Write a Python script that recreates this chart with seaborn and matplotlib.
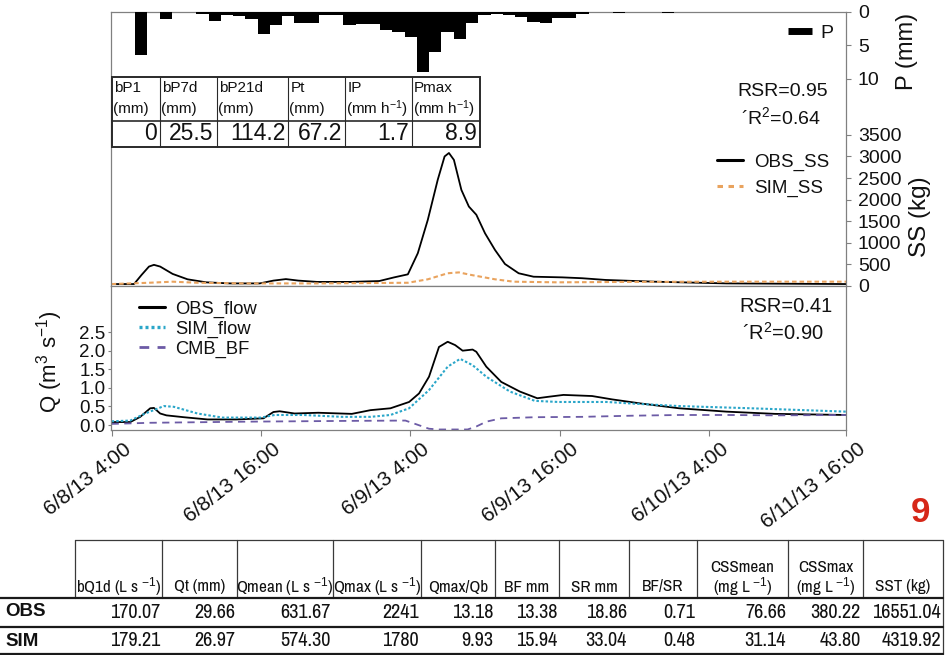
import numpy as np
import matplotlib
matplotlib.use("Agg")
import matplotlib.pyplot as plt
import matplotlib.transforms as mtransforms
from matplotlib.lines import Line2D
from matplotlib.patches import Rectangle
from matplotlib import font_manager
import seaborn as sns

# ---------------- data ----------------
# hourly rainfall bars (mm)
P_mm = [6.4, 0, 1.0, 0, 0, 0.3, 1.3, 0.45, 0.6, 1.1,
        3.3, 2.0, 0.6, 1.6, 1.6, 0.45, 0.45, 2.0, 1.8, 1.8,
        2.7, 3.0, 3.7, 9.0, 6.0, 3.0, 4.0, 1.6, 0.45, 0.3,
        0.4, 0.8, 1.5, 1.7, 0.96, 0.96, 0.3, 0, 0, 0.1,
        0, 0, 0, 0.1]
P_bin = list(range(len(P_mm)))

# suspended sediment (kg), time in hours since 6/8/13 4:00
obs_ss_h = [0.0, 1.8, 2.4, 3.0, 3.4, 3.9, 4.9, 6.1, 7.6, 9.5, 11.9, 13.0, 14.0,
            15.0, 16.5, 19.2, 21.5, 22.7, 23.8, 24.6, 25.4, 26.2, 26.75, 27.1,
            27.5, 28.1, 28.7, 29.3, 30.0, 30.8, 31.6, 32.7, 33.9, 36.2, 37.8,
            39.7, 43.6, 49.4, 59.0]
obs_ss_kg = [45, 45, 255, 450, 490, 450, 280, 155, 85, 60, 60, 125, 160,
             125, 95, 95, 115, 200, 270, 760, 1530, 2460, 3000, 3080,
             2920, 2225, 1840, 1650, 1220, 835, 510, 295, 215, 200, 180,
             140, 100, 60, 45]
sim_ss_h = [0.0, 3.0, 4.9, 6.9, 10.7, 16.5, 23.8, 25.4, 27.0, 27.9, 28.9,
            30.8, 32.3, 35.8, 41.6, 49.4, 59.0]
sim_ss_kg = [45, 75, 100, 75, 60, 60, 75, 155, 295, 315, 255,
             155, 100, 85, 95, 100, 100]

# discharge (m3 s-1)
obs_flow_h = [0.0, 1.5, 2.3, 3.1, 3.4, 3.9, 4.4, 5.8, 7.7, 10.0, 12.2, 13.0,
              13.5, 14.7, 16.6, 19.3, 20.8, 22.4, 23.9, 24.7, 25.5, 26.3,
              27.0, 27.6, 28.2, 29.0, 29.3, 30.1, 31.3, 32.8, 34.2, 35.1,
              36.3, 38.6, 40.2, 42.5, 45.6, 49.4, 53.3, 59.0]
obs_flow_q = [0.08, 0.08, 0.22, 0.45, 0.46, 0.31, 0.26, 0.21, 0.15, 0.15, 0.18,
              0.35, 0.37, 0.31, 0.33, 0.30, 0.40, 0.45, 0.62, 0.85, 1.30, 2.10,
              2.24, 2.15, 2.00, 2.03, 1.97, 1.57, 1.16, 0.90, 0.72, 0.76,
              0.81, 0.78, 0.69, 0.58, 0.45, 0.36, 0.30, 0.27]
sim_flow_h = [0.0, 1.5, 2.7, 4.2, 5.0, 6.9, 8.9, 12.0, 13.1, 15.4, 18.5, 20.8,
              22.4, 23.9, 25.5, 27.0, 28.0, 29.0, 30.1, 32.0, 34.0, 35.9,
              39.8, 41.7, 45.6, 51.4, 59.0]
sim_flow_q = [0.10, 0.12, 0.31, 0.51, 0.49, 0.31, 0.20, 0.20, 0.27, 0.27, 0.22,
              0.22, 0.27, 0.45, 0.94, 1.57, 1.78, 1.61, 1.30, 0.90, 0.65, 0.62,
              0.62, 0.58, 0.51, 0.45, 0.36]
bf_h = [0.0, 3.1, 10.8, 18.5, 23.6, 24.3, 25.5, 26.3, 28.6, 29.3, 30.1, 31.3,
        34.0, 37.8, 41.7, 45.6, 49.4, 53.3, 59.0]
bf_q = [0.03, 0.06, 0.09, 0.11, 0.12, 0.04, -0.10, -0.12, -0.12, -0.04, 0.09,
        0.18, 0.21, 0.22, 0.25, 0.27, 0.27, 0.26, 0.27]

x_tick_hours = [0, 12, 24, 36, 48, 59]
x_tick_labels = ["6/8/13 4:00", "6/8/13 16:00", "6/9/13 4:00",
                 "6/9/13 16:00", "6/10/13 4:00", "6/11/13 16:00"]
q_ticks = [0.0, 0.5, 1.0, 1.5, 2.0, 2.5]
ss_ticks = [0, 500, 1000, 1500, 2000, 2500, 3000, 3500]
p_ticks = [0, 5, 10]

stats_ss = ["RSR=0.95", "\u00b4R$^2$=0.64"]
stats_q = ["RSR=0.41", "\u00b4R$^2$=0.90"]

rain_head = ["bP1", "bP7d", "bP21d", "Pt", "IP", "Pmax"]
rain_unit = ["(mm)", "(mm)", "(mm)", "(mm)", "(mm h$^{-1}$)", "(mm h$^{-1}$)"]
rain_vals = ["0", "25.5", "114.2", "67.2", "1.7", "8.9"]

flow_head = ["bQ1d (L s $^{-1}$)", "Qt (mm)", "Qmean (L s $^{-1}$)",
             "Qmax (L s $^{-1}$)", "Qmax/Qb", "BF mm", "SR mm", "BF/SR",
             "CSSmean\n(mg L $^{-1}$)", "CSSmax\n(mg L $^{-1}$)", "SST (kg)"]
flow_rows = ["OBS", "SIM"]
flow_obs = ["170.07", "29.66", "631.67", "2241", "13.18", "13.38", "18.86",
            "0.71", "76.66", "380.22", "16551.04"]
flow_sim = ["179.21", "26.97", "574.30", "1780", "9.93", "15.94", "33.04",
            "0.48", "31.14", "43.80", "4319.92"]

# ---------------- style ----------------
sns.set_theme(style="white")
plt.rcParams["font.family"] = ["Liberation Sans", "DejaVu Sans"]
plt.rcParams.update({
    "mathtext.fontset": "custom",
    "mathtext.rm": "Liberation Sans",
    "mathtext.it": "Liberation Sans:italic",
    "mathtext.bf": "Liberation Sans:bold",
    "axes.edgecolor": "#808080",
    "axes.linewidth": 0.9,
    "xtick.color": "#808080",
    "ytick.color": "#808080",
    "xtick.labelcolor": "#111111",
    "ytick.labelcolor": "#111111",
    "text.color": "#111111",
    "axes.labelcolor": "#111111",
})
_names = {f.name for f in font_manager.fontManager.ttflist}
NARROW = None
for cand in ["Liberation Sans Narrow", "Arial Narrow", "Archivo Narrow",
             "PT Sans Narrow", "Roboto Condensed", "Pragati Narrow"]:
    if cand in _names:
        NARROW = cand
        break

C_SIMSS = "#E9A35E"
C_SIMQ = "#2AA6C9"
C_BF = "#6C5BA6"

W, H = 948, 655
fig = plt.figure(figsize=(W / 100, H / 100), dpi=100)


def rect(x0, y0, x1, y1):
    return [x0 / W, 1 - y1 / H, (x1 - x0) / W, (y1 - y0) / H]


PX0, PX1 = 111, 846
ax_ss = fig.add_axes(rect(PX0, 12, PX1, 286))
ax_q = fig.add_axes(rect(PX0, 286, PX1, 430))
ax_p = fig.add_axes(rect(PX0, 12, PX1, 286), facecolor="none")

# ---- SS panel ----
sns.lineplot(x=obs_ss_h, y=obs_ss_kg, ax=ax_ss, color="black", linewidth=1.3,
             estimator=None, sort=False)
sns.lineplot(x=sim_ss_h, y=sim_ss_kg, ax=ax_ss, color=C_SIMSS, linewidth=1.5,
             estimator=None, sort=False, linestyle=(0, (2.2, 1.4)))
ax_ss.set_xlim(-0.05, 59)
ax_ss.set_ylim(0, 6345)
ax_ss.set_xticks([])
ax_ss.yaxis.tick_right()
ax_ss.set_yticks(ss_ticks)
ax_ss.tick_params(axis="y", right=True, left=False, length=3.6, width=0.8,
                  pad=5, labelsize=14)
ax_ss.yaxis.set_label_position("right")
ax_ss.set_ylabel("SS (kg)", fontsize=17.5)
ax_ss.yaxis.set_label_coords((909 - PX0) / (PX1 - PX0), (286 - 217) / 274)
ss_handles = [Line2D([0], [0], color="black", lw=2.2),
              Line2D([0], [0], color=C_SIMSS, lw=2.2, linestyle=(0, (1.8, 1.8)))]
ax_ss.legend(ss_handles, ["OBS_SS", "SIM_SS"], loc="center left",
             bbox_to_anchor=(717 / W, 1 - 175 / H), bbox_transform=fig.transFigure,
             frameon=False, fontsize=13.5, handlelength=1.4, handletextpad=0.6,
             labelspacing=0.45, borderpad=0, borderaxespad=0)

# ---- P panel (overlay, inverted) ----
sns.barplot(x=P_bin, y=P_mm, ax=ax_p, native_scale=True, color="black",
            width=1, saturation=1, linewidth=0, errorbar=None)
ax_p.set_xlim(-2.46, 57.5)
ax_p.set_ylim(41.2, 0)
for s in ax_p.spines.values():
    s.set_visible(False)
ax_p.set_xticks([])
ax_p.set_xlabel("")
ax_p.yaxis.tick_right()
ax_p.set_yticks(p_ticks)
ax_p.tick_params(axis="y", right=True, left=False, length=3.6, width=0.8,
                 pad=5, labelsize=14)
ax_p.yaxis.set_label_position("right")
ax_p.set_ylabel("P (mm)", fontsize=17)
ax_p.yaxis.set_label_coords((896 - PX0) / (PX1 - PX0), (286 - 51.5) / 274)
ax_p.legend([Line2D([0], [0], color="black", lw=5, solid_capstyle="butt")], ["P"],
            loc="center left",
            bbox_to_anchor=(788 / W, 1 - 33 / H), bbox_transform=fig.transFigure,
            frameon=False, fontsize=14, handlelength=1.25, handletextpad=0.4,
            borderpad=0, borderaxespad=0)

# ---- Q panel ----
sns.lineplot(x=obs_flow_h, y=obs_flow_q, ax=ax_q, color="black", linewidth=1.3,
             estimator=None, sort=False)
sns.lineplot(x=sim_flow_h, y=sim_flow_q, ax=ax_q, color=C_SIMQ, linewidth=1.5,
             estimator=None, sort=False, linestyle=(0, (1.2, 1.0)))
sns.lineplot(x=bf_h, y=bf_q, ax=ax_q, color=C_BF, linewidth=1.3,
             estimator=None, sort=False, linestyle=(0, (4, 3)))
ax_q.set_xlim(-0.05, 59)
ax_q.set_ylim(-0.134, 3.74)
ax_q.set_yticks(q_ticks)
ax_q.set_yticklabels([f"{v:.1f}" for v in q_ticks])
ax_q.tick_params(axis="y", left=True, right=False, length=2.5, width=0.8,
                 pad=1.5, labelsize=13.5)
ax_q.set_xticks(x_tick_hours)
ax_q.set_xticklabels(x_tick_labels, rotation=38, ha="right", va="top",
                     rotation_mode="anchor", fontsize=15)
ax_q.tick_params(axis="x", bottom=True, length=4, width=0.8, pad=3)
offset = mtransforms.ScaledTranslation(8 / 72, 0, fig.dpi_scale_trans)
for lab in ax_q.get_xticklabels():
    lab.set_transform(lab.get_transform() + offset)
ax_q.set_ylabel("Q (m$^3$ s$^{-1}$)", fontsize=16)
ax_q.yaxis.set_label_coords((65 - PX0) / (PX1 - PX0), (430 - 362) / 144)
q_handles = [Line2D([0], [0], color="black", lw=2.2),
             Line2D([0], [0], color=C_SIMQ, lw=2.4, linestyle=(0, (0.9, 0.9))),
             Line2D([0], [0], color=C_BF, lw=2.0, linestyle=(0, (3.5, 3)))]
ax_q.legend(q_handles, ["OBS_flow", "SIM_flow", "CMB_BF"], loc="center left",
            bbox_to_anchor=(138.5 / W, 1 - 329 / H), bbox_transform=fig.transFigure,
            frameon=False, fontsize=13.2, handlelength=1.45, handletextpad=0.55,
            labelspacing=0.15, borderpad=0, borderaxespad=0)

# ---------------- overlay: texts and tables ----------------
ov = fig.add_axes([0, 0, 1, 1])
ov.set_xlim(0, W)
ov.set_ylim(H, 0)
ov.axis("off")
ov.patch.set_alpha(0)

ov.text(828, 92, stats_ss[0], ha="right", va="center", fontsize=14)
ov.text(821, 117, stats_ss[1], ha="right", va="center", fontsize=14)
ov.text(833, 307, stats_q[0], ha="right", va="center", fontsize=14.5)
ov.text(824, 333, stats_q[1], ha="right", va="center", fontsize=14.5)

ov.text(920, 512, "9", color="#D62718", fontsize=25, fontweight="bold",
        ha="center", va="center")

# inner rainfall table
rx = [111.7, 160, 216.7, 288.3, 345, 411.7, 480]
ry0, ry1, ry2 = 76.7, 120.7, 146.7
ov.add_patch(Rectangle((rx[0], ry0), rx[-1] - rx[0], ry2 - ry0, fc="white",
                       ec="#2a2a2a", lw=1.4, zorder=3))
for x in rx[1:-1]:
    ov.plot([x, x], [ry0, ry2], color="#2a2a2a", lw=0.8, zorder=4)
ov.plot([rx[0], rx[-1]], [ry1, ry1], color="#2a2a2a", lw=1.2, zorder=4)
for i in range(len(rain_head)):
    ov.text(rx[i] + 2.5, 88, rain_head[i], ha="left", va="center", fontsize=11, zorder=5)
    ov.text(rx[i] + 1, 109, rain_unit[i], ha="left", va="center", fontsize=11, zorder=5)
    ov.text(rx[i + 1] - 3, 134, rain_vals[i], ha="right", va="center",
            fontsize=16.5, zorder=5)

# bottom summary table
if NARROW:
    tfam = [NARROW, "Liberation Sans", "DejaVu Sans"]
    hsize, vsize = 12.3, 14.6
else:
    tfam = ["Liberation Sans", "DejaVu Sans"]
    hsize, vsize = 10, 12
tx = [75, 162, 237, 333, 421, 495, 559, 629, 697, 788, 863, 943]
ty_top, ty_h, ty_o, ty_b = 540, 598, 627, 654
ov.plot([tx[0], tx[-1]], [ty_top, ty_top], color="#3a3a3a", lw=0.9)
for x in tx[:-1]:
    ov.plot([x, x], [ty_top, ty_h], color="#3a3a3a", lw=0.9)
ov.plot([tx[-1], tx[-1]], [ty_top, ty_b], color="#3a3a3a", lw=0.9)
for y in (ty_h, ty_o, ty_b):
    ov.plot([0, tx[-1]], [y, y], color="#1a1a1a", lw=1.6)
for i, head in enumerate(flow_head):
    cx = (tx[i] + tx[i + 1]) / 2
    if "\n" in head:
        top, unit = head.split("\n")
        ov.text(cx, 567, top, ha="center", va="center", fontsize=hsize, family=tfam)
        ov.text(cx, 587, unit, ha="center", va="center", fontsize=hsize, family=tfam)
    else:
        ov.text(cx, 587, head, ha="center", va="center", fontsize=hsize, family=tfam)
    ov.text(tx[i + 1] - 2, 612, flow_obs[i], ha="right", va="center",
            fontsize=vsize, family=tfam)
    ov.text(tx[i + 1] - 2, 641, flow_sim[i], ha="right", va="center",
            fontsize=vsize, family=tfam)
ov.text(5, 612, flow_rows[0], ha="left", va="center", fontsize=13.5,
        fontweight="bold", family=["Liberation Sans", "DejaVu Sans"])
ov.text(5, 641, flow_rows[1], ha="left", va="center", fontsize=13.5,
        fontweight="bold", family=["Liberation Sans", "DejaVu Sans"])

fig.savefig("out.png", dpi=100)
